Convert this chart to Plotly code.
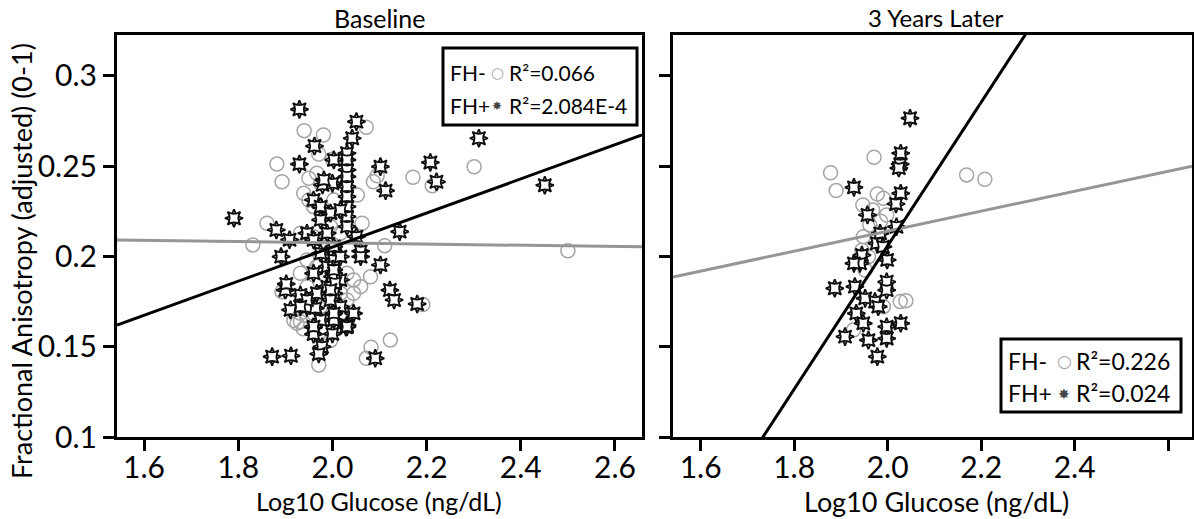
import plotly.graph_objects as go

W, H = 1194, 519

# ---------------- DATA ----------------
# Baseline, FH- (open grey circles)
base_fhneg_x = [1.940, 1.981, 2.072, 1.882, 1.893, 2.171, 2.087, 2.095, 2.053, 1.861,
                2.063, 1.831, 2.111, 1.893, 1.932, 2.081, 2.060, 2.123, 2.082, 2.072,
                1.971, 2.301, 2.212, 2.500, 2.192, 1.971, 2.000, 1.996, 1.938, 1.918,
                1.950, 1.939, 1.950, 1.967, 1.975, 1.960, 1.989, 2.003, 1.996, 1.932,
                1.960, 2.017, 1.975, 2.003, 1.946, 1.967, 1.932, 2.031, 2.045, 2.017,
                1.996, 2.031, 2.045, 1.989, 1.946, 1.925, 1.960, 1.932, 2.017, 1.975]
base_fhneg_y = [0.2697, 0.2673, 0.2716, 0.2512, 0.2414, 0.2439, 0.2414, 0.2447, 0.2340, 0.2184,
                0.2184, 0.2064, 0.2060, 0.1805, 0.1639, 0.1888, 0.1833, 0.1537, 0.1497, 0.1436,
                0.1399, 0.2497, 0.2392, 0.2032, 0.1734, 0.2567, 0.2539, 0.1535, 0.1599, 0.1645,
                0.2433, 0.2350, 0.2313, 0.2461, 0.2406, 0.2276, 0.2240, 0.2313, 0.2166, 0.2129,
                0.2110, 0.2129, 0.2055, 0.2018, 0.1981, 0.1944, 0.1907, 0.1907, 0.1870, 0.1796,
                0.1759, 0.1759, 0.1796, 0.1815, 0.1833, 0.1630, 0.1685, 0.1685, 0.1685, 0.1722]

# Baseline, FH+ (dark stars)
base_fhpos_x = [1.930, 2.051, 2.042, 1.962, 1.930, 2.102, 2.113, 1.791, 1.881, 2.143,
                2.051, 1.891, 2.060, 2.060, 2.102, 1.900, 1.932, 2.122, 2.131, 2.180,
                1.911, 1.946, 1.964, 2.031, 2.003, 1.960, 1.960, 1.978, 1.971, 1.872,
                1.912, 2.091, 2.311, 2.208, 2.221, 2.451, 1.979, 2.000, 1.909, 1.902,
                2.029, 2.000,
                2.031, 2.031, 2.031, 2.031, 2.031, 2.031, 2.031, 2.031, 2.031,
                2.003, 1.982, 1.960, 1.975, 1.996, 2.017, 1.975, 1.946, 1.960, 1.989,
                2.003, 1.975, 2.003, 2.017, 1.989, 1.960, 2.003, 2.017, 1.989, 2.003,
                1.996, 1.967, 1.946, 1.932, 2.017, 2.045, 2.003, 2.031, 1.975, 1.960,
                2.000, 2.006, 1.996, 2.003]
base_fhpos_y = [0.2815, 0.2747, 0.2655, 0.2612, 0.2512, 0.2498, 0.2365, 0.2212, 0.2147, 0.2138,
                0.2110, 0.1999, 0.2030, 0.1999, 0.1953, 0.1814, 0.1787, 0.1814, 0.1759, 0.1737,
                0.1704, 0.1718, 0.1714, 0.1620, 0.1647, 0.1607, 0.1570, 0.1500, 0.1460, 0.1445,
                0.1450, 0.1436, 0.2655, 0.2521, 0.2414, 0.2395, 0.2397, 0.2405, 0.2093, 0.1848,
                0.1608, 0.1571,
                0.2572, 0.2535, 0.2480, 0.2443, 0.2387, 0.2332, 0.2276, 0.2221, 0.2166,
                0.2535, 0.2424, 0.2313, 0.2276, 0.2240, 0.2258, 0.2203, 0.2129, 0.2092, 0.2129,
                0.2055, 0.2018, 0.1981, 0.1999, 0.1944, 0.1907, 0.1907, 0.1870, 0.1833, 0.1796,
                0.1759, 0.1796, 0.1759, 0.1722, 0.1722, 0.1685, 0.1685, 0.1611, 0.1648, 0.1611,
                0.1889, 0.1852, 0.1815, 0.1926]

# 3 Years Later, FH-
y3_fhneg_x = [1.971, 1.878, 1.890, 1.978, 1.991, 1.947, 1.968, 1.998, 1.948, 1.945,
              1.959, 1.952, 1.991, 2.027, 2.039, 1.927, 2.169, 2.208, 1.962, 1.985]
y3_fhneg_y = [0.2550, 0.2464, 0.2365, 0.2346, 0.2322, 0.2285, 0.2258, 0.2230, 0.2110, 0.2035,
              0.1999, 0.1925, 0.1722, 0.1750, 0.1755, 0.1593, 0.2452, 0.2428, 0.2175, 0.2195]

# 3 Years Later, FH+
y3_fhpos_x = [2.048, 2.028, 2.027, 2.024, 1.928, 2.028, 2.018, 1.957, 2.019, 1.984,
              1.977, 1.990, 1.945, 1.941, 1.928, 1.999, 1.998, 1.998, 1.887, 1.930,
              1.952, 1.973, 1.980, 1.933, 1.948, 1.998, 2.028, 1.909, 1.959, 1.998,
              1.978]
y3_fhpos_y = [0.2766, 0.2572, 0.2512, 0.2490, 0.2383, 0.2350, 0.2291, 0.2230, 0.2165, 0.2128,
              0.2073, 0.2054, 0.2008, 0.1962, 0.1962, 0.1981, 0.1860, 0.1814, 0.1824, 0.1833,
              0.1768, 0.1750, 0.1722, 0.1685, 0.1630, 0.1611, 0.1630, 0.1556, 0.1537, 0.1546,
              0.1445]

# Regression lines [intercept, slope]
base_fit_fhneg = [0.2144, -0.00341]
base_fit_fhpos = [0.01629, 0.09446]
y3_fit_fhneg = [0.1032, 0.0554]
y3_fit_fhpos = [-0.5887, 0.3973]

# Legend texts
base_r2 = ["R\u00b2=0.066", "R\u00b2=2.084E-4"]
y3_r2 = ["R\u00b2=0.226", "R\u00b2=0.024"]
groups = ["FH-", "FH+"]
panel_titles = ["Baseline", "3 Years Later"]

# Axis ticks
y_ticks = [0.1, 0.15, 0.2, 0.25, 0.3]
y_ticklabels = ["0.1", "0.15", "0.2", "0.25", "0.3"]
x_ticks = [1.6, 1.8, 2.0, 2.2, 2.4, 2.6]
x_ticklabels_base = ["1.6", "1.8", "2.0", "2.2", "2.4", "2.6"]
x_ticklabels_y3 = ["1.6", "1.8", "2.0", "2.2", "2.4", ""]

x_range_base = [1.5426, 2.6574]
x_range_y3 = [1.541, 2.651]
y_range = [0.1, 0.3227]

# ---------------- STYLE ----------------
FONT = "Lato, 'Open Sans', sans-serif"
GREY = "rgb(165,165,165)"
LINE_GREY = "rgb(150,150,150)"
STAR_LINE = "rgb(15,15,15)"


def px_x(p):
    return p / W


def px_y(p):
    return 1 - p / H


fig = go.Figure()


def add_panel(xa, ya, nx, ny, pxs, pys, fit_neg, fit_pos, xr):
    fig.add_trace(go.Scatter(
        x=nx, y=ny, mode="markers", xaxis=xa, yaxis=ya, showlegend=False,
        marker=dict(symbol="circle-open", size=14, color=GREY, line=dict(width=1.5, color=GREY))))
    fig.add_trace(go.Scatter(
        x=pxs, y=pys, mode="markers", xaxis=xa, yaxis=ya, showlegend=False,
        marker=dict(symbol="star-diamond", size=13, color="white",
                    line=dict(width=1.8, color=STAR_LINE))))
    fig.add_trace(go.Scatter(
        x=pxs, y=pys, mode="markers", xaxis=xa, yaxis=ya, showlegend=False,
        marker=dict(symbol="star-square", size=11.7, color="white",
                    line=dict(width=1.8, color=STAR_LINE))))
    lx = [xr[0], xr[1]]
    fig.add_trace(go.Scatter(
        x=lx, y=[fit_neg[0] + fit_neg[1] * v for v in lx], mode="lines", xaxis=xa, yaxis=ya,
        showlegend=False, line=dict(color=LINE_GREY, width=3)))
    fig.add_trace(go.Scatter(
        x=lx, y=[fit_pos[0] + fit_pos[1] * v for v in lx], mode="lines", xaxis=xa, yaxis=ya,
        showlegend=False, line=dict(color="black", width=3)))


add_panel("x", "y", base_fhneg_x, base_fhneg_y, base_fhpos_x, base_fhpos_y,
          base_fit_fhneg, base_fit_fhpos, x_range_base)
add_panel("x2", "y2", y3_fhneg_x, y3_fhneg_y, y3_fhpos_x, y3_fhpos_y,
          y3_fit_fhneg, y3_fit_fhpos, x_range_y3)

axis_common = dict(showgrid=False, zeroline=False, showline=True, linecolor="black", linewidth=3,
                   mirror=True, ticks="outside", ticklen=11, tickwidth=3, tickcolor="black",
                   automargin=False,
                   tickfont=dict(family=FONT, size=30, color="black"))

fig.update_layout(
    width=W, height=H, autosize=False,
    margin=dict(l=0, r=0, t=0, b=0, pad=0),
    paper_bgcolor="white", plot_bgcolor="white",
    xaxis=dict(domain=[px_x(117), px_x(642)], range=x_range_base, tickvals=x_ticks,
               ticktext=x_ticklabels_base, anchor="y", ticklabelstandoff=-9, **axis_common),
    yaxis=dict(domain=[px_y(437), px_y(35)], range=y_range, tickvals=y_ticks,
               ticktext=y_ticklabels, anchor="x", **axis_common),
    xaxis2=dict(domain=[px_x(673), px_x(1192)], range=x_range_y3, tickvals=x_ticks,
                ticktext=x_ticklabels_y3, anchor="y2", ticklabelstandoff=-9, **axis_common),
    yaxis2=dict(domain=[px_y(437), px_y(35)], range=y_range, tickvals=y_ticks,
                showticklabels=False, anchor="x2", **axis_common),
)

ann = []


def text(x, y, s, size, xanchor="center", color="black", angle=0, family=FONT):
    ann.append(dict(x=px_x(x), y=px_y(y), xref="paper", yref="paper", text=s, showarrow=False,
                    xanchor=xanchor, yanchor="middle", textangle=angle,
                    font=dict(family=family, size=size, color=color)))


# panel titles
text(379, 18, panel_titles[0], 25)
text(936, 18, panel_titles[1], 24)
# axis titles
text(379, 501, "Log10 Glucose (ng/dL)", 25)
text(936, 501, "Log10 Glucose (ng/dL)", 27)
text(21, 261, "Fractional Anisotropy (adjusted) (0-1)", 27, angle=-90)

shapes = []


def legend(box, rows_y, x_lab, x_sym, x_r2, r2s, size):
    x0, y0, x1, y1 = box
    shapes.append(dict(type="rect", xref="paper", yref="paper", x0=px_x(x0), x1=px_x(x1),
                       y0=px_y(y1), y1=px_y(y0), line=dict(color="black", width=3),
                       fillcolor="white", layer="above"))
    for i in range(2):
        text(x_lab, rows_y[i], groups[i], size, xanchor="left")
        text(x_r2, rows_y[i], r2s[i], size, xanchor="left")
    text(x_sym, rows_y[0], "\u25cb", size - 6, color=GREY, family="DejaVu Sans")
    text(x_sym, rows_y[1] + 1, "\u2738", size - 9, color="rgb(70,70,70)", family="DejaVu Sans")


legend((443, 48, 637, 125), (73, 105), 448, 497, 507, base_r2, 21)
legend((1001, 339, 1181, 412), (361, 393), 1006, 1064, 1074, y3_r2, 23)

fig.update_layout(annotations=ann, shapes=shapes)
fig.write_html("out.html", config={"displayModeBar": False},
               post_script="document.body.style.margin='0px';document.body.style.overflow='hidden';")
